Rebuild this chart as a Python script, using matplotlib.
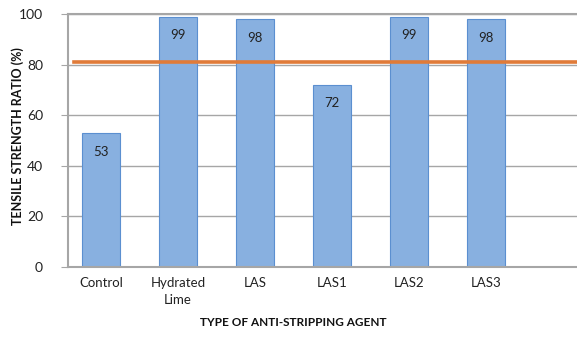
import numpy as np
import matplotlib.pyplot as plt

categories = ["Control", "Hydrated\nLime", "LAS", "LAS1", "LAS2", "LAS3"]
tsr = [53, 99, 98, 72, 99, 98]
limit = 81
yticks = [0, 20, 40, 60, 80, 100]

plt.rcParams['font.family'] = ['Lato', 'DejaVu Sans']

fig = plt.figure(figsize=(5.77, 3.39), dpi=100)
W, H = 577, 339
# plot area in pixels: left 68, right beyond the image, top 14, bottom 267
ax = fig.add_axes([68 / W, (H - 267) / H, (W - 68) / W, (267 - 14) / H])

x = np.arange(len(categories))
ax.bar(x, tsr, width=0.5, color='#88b0e0', edgecolor='#5b8fd0', linewidth=0.8, zorder=2)
for xi, v in zip(x, tsr):
    ax.text(xi, v - 5, str(v), ha='center', va='top', fontsize=9.5, color='#222222', zorder=3)

ax.axhline(limit, xmin=0.012, color='#e07b39', linewidth=2.6, zorder=3)

ax.set_ylim(0, 100)
# 77 px per category, first center 33 px right of the left spine
ax.set_xlim(-33 / 77, (W - 68 - 33) / 77)
ax.set_yticks(yticks)
ax.set_xticks(x)
ax.set_xticklabels([])
# category names drawn line by line so two-line labels stay centred
for xi, name in zip(x, categories):
    for k, line in enumerate(name.split("\n")):
        ax.text(xi, -0.04 - k * 0.068, line, transform=ax.get_xaxis_transform(),
                ha='center', va='top', fontsize=9.5, color='#222222')
ax.tick_params(axis='y', labelsize=10, colors='#222222', length=5, color='#a6a6a6', pad=13)
ax.tick_params(axis='x', length=0)
ax.grid(axis='y', color='#a6a6a6', linewidth=1, zorder=0)
for side in ['left', 'bottom', 'top']:
    ax.spines[side].set_color('#a6a6a6')
    ax.spines[side].set_linewidth(1.5)
ax.spines['right'].set_visible(False)

fig.text(18 / W, 1 - 136 / H, "TENSILE STRENGTH RATIO (%)", rotation=90, ha='center', va='center',
         fontsize=9, fontweight='bold', color='#111111')
fig.text(293 / W, 1 - 322 / H, "TYPE OF ANTI-STRIPPING AGENT", ha='center', va='center',
         fontsize=8.5, fontweight='bold', color='#111111')

fig.savefig('out.png', dpi=100)
